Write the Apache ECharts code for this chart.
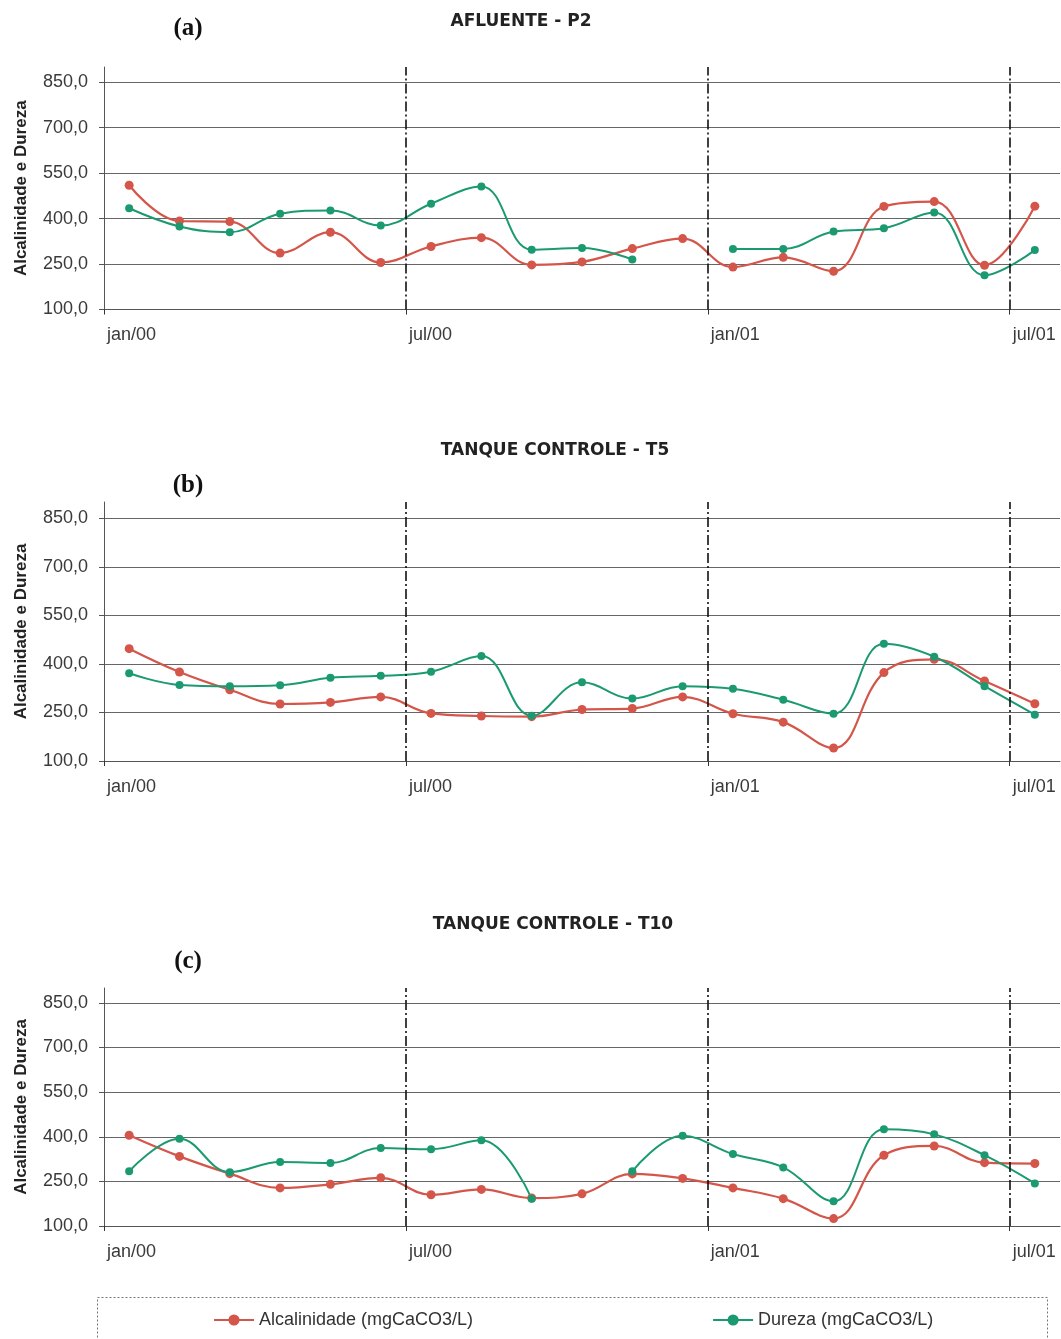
<!DOCTYPE html>
<html>
<head>
<meta charset="utf-8">
<title>Alcalinidade e Dureza</title>
<script src="https://cdn.jsdelivr.net/npm/echarts@6/dist/echarts.min.js"></script>
<style>
  html, body { margin: 0; padding: 0; background: #ffffff; }
  #chart { width: 1061px; height: 1339px; }
</style>
</head>
<body>
<div id="chart"></div>
<script>
// Monthly samples, jan/2000 to jul/2001
const months = ['jan/00', 'fev/00', 'mar/00', 'abr/00', 'mai/00', 'jun/00', 'jul/00', 'ago/00', 'set/00',
  'out/00', 'nov/00', 'dez/00', 'jan/01', 'fev/01', 'mar/01', 'abr/01', 'mai/01', 'jun/01', 'jul/01'];

// Axis tick labels (one every six months)
const tickLabels = ['jan/00', 'jul/00', 'jan/01', 'jul/01'];

// (a) AFLUENTE - P2
const alcA = [510, 392, 390, 286, 355, 255, 308, 337, 247, 257, 301, 334, 240, 272, 226, 440, 456, 246, 441];
const durA = [434, 374, 355, 416, 427, 377, 449, 506, 297, 303, 265, null, 300, 300, 357, 368, 420, 213, 296];

// (b) TANQUE CONTROLE - T5
const alcB = [447, 375, 320, 276, 281, 298, 247, 239, 237, 259, 262, 298, 246, 220, 140, 373, 414, 347, 277];
const durB = [371, 335, 331, 334, 357, 363, 376, 424, 240, 343, 293, 331, 323, 289, 246, 462, 422, 331, 243];

// (c) TANQUE CONTROLE - T10
const alcC = [405, 334, 276, 228, 240, 262, 205, 223, 194, 208, 275, 260, 228, 192, 125, 338, 369, 313, 310];
const durC = [284, 393, 281, 315, 312, 362, 358, 388, 192, null, 284, 403, 342, 297, 183, 425, 408, 338, 243];

const seriesNames = ['Alcalinidade (mgCaCO3/L)', 'Dureza (mgCaCO3/L)'];
const panelTitles = ['AFLUENTE - P2', 'TANQUE CONTROLE - T5', 'TANQUE CONTROLE - T10'];
const panelLetters = ['(a)', '(b)', '(c)'];
const yAxisTitle = 'Alcalinidade e Dureza';

// ---------------------------------------------------------------------------
const SANS = '"Liberation Sans", Arial, Helvetica, sans-serif';
const WIDE = '"DejaVu Sans", "Liberation Sans", Arial, sans-serif';
const SERIF = '"Liberation Serif", "Times New Roman", serif';
const RED = '#d4564a';
const GREEN = '#1b9a72';

const panels = [
  { alc: alcA, dur: durA, top: 67, height: 242.5, titleX: 521, titleY: 22, letterY: 29 },
  { alc: alcB, dur: durB, top: 502, height: 259, titleX: 555, titleY: 451, letterY: 486 },
  { alc: alcC, dur: durC, top: 988, height: 238, titleX: 553, titleY: 925, letterY: 962 }
];

// samples sit in the middle of each month on a month-index axis
const toPoints = arr => arr.map((v, i) => [i + 0.5, v == null ? '-' : v]);
const semesterMarks = [6, 12, 18];

const fmtY = v => v.toFixed(1).replace('.', ',');
const fmtX = v => (v % 6 === 0 && tickLabels[v / 6] !== undefined) ? tickLabels[v / 6] : '';

const grids = [], xAxes = [], yAxes = [], series = [], graphics = [];

panels.forEach((p, k) => {
  grids.push({ left: 104, width: 956, top: p.top, height: p.height });

  xAxes.push({
    type: 'value', gridIndex: k, min: 0, max: months.length, interval: 6,
    axisLine: { show: true, lineStyle: { color: '#555', width: 1 } },
    axisTick: { show: true, length: 5, lineStyle: { color: '#333' } },
    axisLabel: {
      formatter: fmtX, align: 'left', margin: 17, padding: [0, 0, 0, 3],
      fontSize: 18, color: '#3a3a3a', fontFamily: SANS, showMaxLabel: false
    },
    splitLine: { show: false }
  });

  yAxes.push({
    type: 'value', gridIndex: k, min: 100, max: 900, interval: 150,
    axisLine: { show: true, lineStyle: { color: '#555', width: 1 } },
    axisTick: { show: true, length: 5, lineStyle: { color: '#555' } },
    axisLabel: {
      formatter: fmtY, fontSize: 18, color: '#3a3a3a', fontFamily: SANS,
      margin: 16, showMaxLabel: false
    },
    splitLine: { show: true, showMaxLine: false, lineStyle: { color: '#666', width: 1 } },
    name: yAxisTitle, nameLocation: 'middle', nameGap: 74, nameRotate: 90,
    nameTextStyle: { fontSize: 17, fontWeight: 'bold', color: '#222', fontFamily: SANS }
  });

  series.push({
    name: seriesNames[0], type: 'line', xAxisIndex: k, yAxisIndex: k,
    data: toPoints(p.alc), smooth: 0.4, connectNulls: false,
    symbol: 'circle', symbolSize: 9,
    itemStyle: { color: RED }, lineStyle: { color: RED, width: 2.2 },
    markLine: {
      silent: true, symbol: ['none', 'none'], label: { show: false },
      lineStyle: { color: '#111', width: 1.6, type: [10, 3, 2, 3] },
      emphasis: { disabled: true },
      data: semesterMarks.map(x => ({ xAxis: x }))
    }
  });
  series.push({
    name: seriesNames[1], type: 'line', xAxisIndex: k, yAxisIndex: k,
    data: toPoints(p.dur), smooth: 0.4, connectNulls: false,
    symbol: 'circle', symbolSize: 8,
    itemStyle: { color: GREEN }, lineStyle: { color: GREEN, width: 2 }
  });

  graphics.push({
    type: 'text', x: p.titleX, y: p.titleY, silent: true,
    style: { text: panelTitles[k], font: 'bold 17px ' + WIDE, fill: '#222', align: 'center', verticalAlign: 'middle' }
  });
  graphics.push({
    type: 'text', x: 188, y: p.letterY, silent: true,
    style: { text: panelLetters[k], font: 'bold 25px ' + SERIF, fill: '#111', align: 'center', verticalAlign: 'middle' }
  });
});

// legend frame
graphics.push({
  type: 'rect', silent: true, z: -1,
  shape: { x: 97.5, y: 1297.5, width: 950, height: 60 },
  style: { fill: 'none', stroke: '#777', lineWidth: 1, lineDash: [2, 2] }
});

const chart = echarts.init(document.getElementById('chart'), null, { renderer: 'canvas' });
chart.setOption({
  backgroundColor: '#ffffff',
  animation: false,
  grid: grids,
  xAxis: xAxes,
  yAxis: yAxes,
  series: series,
  legend: {
    data: seriesNames, left: 213, top: 1311, padding: 0,
    itemWidth: 40, itemHeight: 14, itemGap: 239,
    textStyle: { fontSize: 18, color: '#333', fontFamily: SANS }
  },
  graphic: graphics
});
</script>
</body>
</html>
